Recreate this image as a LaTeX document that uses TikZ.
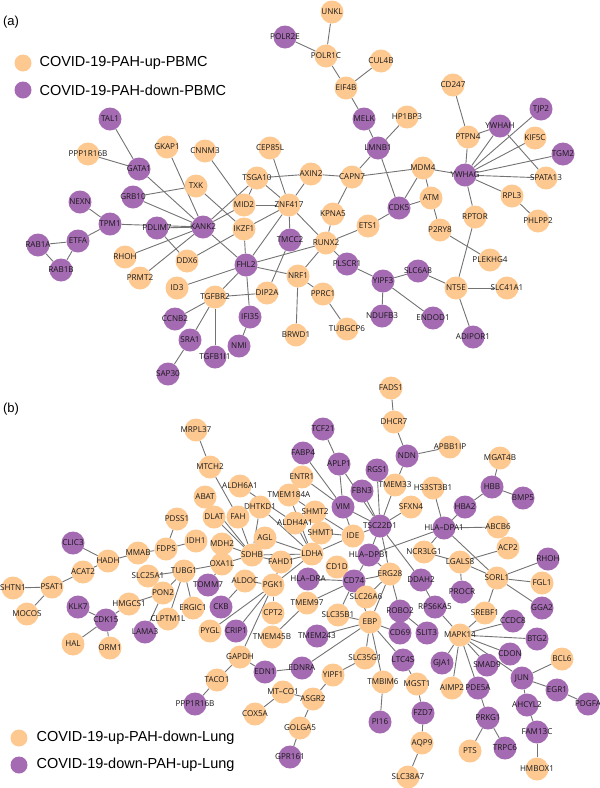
\documentclass[tikz,border=0pt]{standalone}
\usepackage{fontspec}
\setmainfont{Liberation Sans}
\newfontfamily\genefont{Open Sans}
\usetikzlibrary{backgrounds}
\definecolor{upcol}{RGB}{253,201,145}
\definecolor{downcol}{RGB}{164,106,178}
\definecolor{linkcol}{RGB}{115,115,115}

\begin{document}
\begin{tikzpicture}[x=1pt,y=-1pt]
    \tikzset{gene/.style={circle,minimum size=23pt,inner sep=0pt,draw=none},
             up/.style={gene,fill=upcol},
             down/.style={gene,fill=downcol},
             key/.style={circle,minimum size=17pt,inner sep=0pt,draw=none},
             link/.style={draw=linkcol,line width=0.9pt},
             every label/.style={font=\genefont\fontsize{8.1}{9}\selectfont,text=black!90,inner sep=0pt},
             legend/.style={anchor=west,font=\fontsize{14.5}{16}\selectfont},
             tag/.style={font=\fontsize{13}{15}\selectfont}}
    \useasboundingbox (0,0) rectangle (600,788);
    % panel (a)
    \node[tag] (tagA) at (11,22) {(a)};
    \node[key,fill=upcol] (keyUpA) at (23,63) {};
    \node[legend] (keyUpAtext) at (36,63) {COVID-19-PAH-up-PBMC};
    \node[key,fill=downcol] (keyDownA) at (23,90) {};
    \node[legend] (keyDownAtext) at (36,90) {COVID-19-PAH-down-PBMC};
\node[down,label=center:POLR2E] (POLR2E) at (285,37) {};
\node[up,label=center:UNKL] (UNKL) at (332,12) {};
\node[up,label=center:POLR1C] (POLR1C) at (326,56) {};
\node[up,label=center:CUL4B] (CUL4B) at (381,61) {};
\node[up,label=center:EIF4B] (EIF4B) at (346,88) {};
\node[down,label=center:MELK] (MELK) at (364,119) {};
\node[up,label=center:HP1BP3] (HP1BP3) at (407,117) {};
\node[down,label=center:LMNB1] (LMNB1) at (378,148) {};
\node[up,label=center:CD247] (CD247) at (453,85) {};
\node[down,label=center:TJP2] (TJP2) at (541,109) {};
\node[down,label=center:YWHAH] (YWHAH) at (500,126) {};
\node[up,label=center:PTPN4] (PTPN4) at (468,137) {};
\node[up,label=center:KIF5C] (KIF5C) at (535,138) {};
\node[down,label=center:TGM2] (TGM2) at (563,154) {};
\node[up,label=center:MDM4] (MDM4) at (423,168) {};
\node[down,label=center:YWHAG] (YWHAG) at (465,175) {};
\node[up,label=center:SPATA13] (SPATA13) at (546,178) {};
\node[up,label=center:RPL3] (RPL3) at (512,196) {};
\node[up,label=center:PHLPP2] (PHLPP2) at (538,221) {};
\node[up,label=center:RPTOR] (RPTOR) at (475,217) {};
\node[up,label=center:ATM] (ATM) at (431,198) {};
\node[up,label=center:P2RY8] (P2RY8) at (440,230) {};
\node[up,label=center:PLEKHG4] (PLEKHG4) at (490,260) {};
\node[down,label=center:CDK5] (CDK5) at (399,208) {};
\node[up,label=center:ETS1] (ETS1) at (368,226) {};
\node[up,label=center:KPNA5] (KPNA5) at (333,214) {};
\node[up,label=center:CAPN7] (CAPN7) at (352,177) {};
\node[up,label=center:AXIN2] (AXIN2) at (311,174) {};
\node[up,label=center:CEP85L] (CEP85L) at (270,148) {};
\node[up,label=center:TSGA10] (TSGA10) at (257,178) {};
\node[up,label=center:CNNM3] (CNNM3) at (205,151) {};
\node[up,label=center:GKAP1] (GKAP1) at (167,147) {};
\node[down,label=center:TAL1] (TAL1) at (110,119) {};
\node[up,label=center:PPP1R16B] (PPP1R16B) at (88,154) {};
\node[down,label=center:GATA1] (GATA1) at (139,169) {};
\node[up,label=center:TXK] (TXK) at (196,186) {};
\node[down,label=center:GRB10] (GRB10) at (133,197) {};
\node[up,label=center:MID2] (MID2) at (244,205) {};
\node[up,label=center:ZNF417] (ZNF417) at (289,205) {};
\node[down,label=center:NEXN] (NEXN) at (80,202) {};
\node[down,label=center:TPM1] (TPM1) at (110,224) {};
\node[down,label=center:PDLIM7] (PDLIM7) at (157,228) {};
\node[down,label=center:KANK2] (KANK2) at (203,227) {};
\node[up,label=center:IKZF1] (IKZF1) at (244,229) {};
\node[down,label=center:TMCC2] (TMCC2) at (290,240) {};
\node[up,label=center:RUNX2] (RUNX2) at (326,243) {};
\node[down,label=center:ETFA] (ETFA) at (78,241) {};
\node[down,label=center:RAB1A] (RAB1A) at (38,245) {};
\node[down,label=center:RAB1B] (RAB1B) at (61,270) {};
\node[up,label=center:RHOH] (RHOH) at (125,257) {};
\node[up,label=center:DDX6] (DDX6) at (187,261) {};
\node[down,label=center:FHL2] (FHL2) at (246,265) {};
\node[down,label=center:PLSCR1] (PLSCR1) at (347,264) {};
\node[down,label=center:SLC6A8] (SLC6A8) at (418,271) {};
\node[down,label=center:YIPF3] (YIPF3) at (383,281) {};
\node[up,label=center:NT5E] (NT5E) at (456,288) {};
\node[up,label=center:SLC41A1] (SLC41A1) at (507,288) {};
\node[up,label=center:NRF1] (NRF1) at (298,276) {};
\node[up,label=center:PRMT2] (PRMT2) at (140,278) {};
\node[up,label=center:ID3] (ID3) at (177,288) {};
\node[up,label=center:TGFBR2] (TGFBR2) at (215,297) {};
\node[up,label=center:DIP2A] (DIP2A) at (267,293) {};
\node[up,label=center:PPRC1] (PPRC1) at (323,294) {};
\node[down,label=center:NDUFB3] (NDUFB3) at (382,316) {};
\node[down,label=center:ENDOD1] (ENDOD1) at (433,318) {};
\node[down,label=center:CCNB2] (CCNB2) at (175,319) {};
\node[down,label=center:IFI35] (IFI35) at (250,317) {};
\node[up,label=center:TUBGCP6] (TUBGCP6) at (347,329) {};
\node[up,label=center:BRWD1] (BRWD1) at (296,335) {};
\node[down,label=center:ADIPOR1] (ADIPOR1) at (473,337) {};
\node[down,label=center:SRA1] (SRA1) at (190,340) {};
\node[down,label=center:NMI] (NMI) at (239,346) {};
\node[down,label=center:TGFB1I1] (TGFB1I1) at (215,357) {};
\node[down,label=center:SAP30] (SAP30) at (168,374) {};
    % panel (b)
    \node[tag] (tagB) at (11,409) {(b)};
    \node[key,fill=upcol] (keyUpB) at (19,738) {};
    \node[legend] (keyUpBtext) at (33,738) {COVID-19-up-PAH-down-Lung};
    \node[key,fill=downcol] (keyDownB) at (19,765) {};
    \node[legend] (keyDownBtext) at (33,765) {COVID-19-down-PAH-up-Lung};
\node[up,label=center:FADS1] (FADS1) at (391,388) {};
\node[up,label=center:DHCR7] (DHCR7) at (394,422) {};
\node[up,label=center:MRPL37] (MRPL37) at (196,430) {};
\node[down,label=center:TCF21] (TCF21) at (323,429) {};
\node[up,label=center:APBB1IP] (APBB1IP) at (450,447) {};
\node[down,label=center:FABP4] (FABP4) at (303,453) {};
\node[down,label=center:NDN] (NDN) at (407,456) {};
\node[up,label=center:MGAT4B] (MGAT4B) at (500,458) {};
\node[down,label=center:APLP1] (APLP1) at (339,464) {};
\node[up,label=center:MTCH2] (MTCH2) at (210,467) {};
\node[down,label=center:RGS1] (RGS1) at (377,470) {};
\node[up,label=center:ENTR1] (ENTR1) at (302,477) {};
\node[up,label=center:ALDH6A1] (ALDH6A1) at (240,486) {};
\node[up,label=center:TMEM33] (TMEM33) at (395,485) {};
\node[up,label=center:HS3ST3B1] (HS3ST3B1) at (433,488) {};
\node[down,label=center:HBB] (HBB) at (492,487) {};
\node[down,label=center:FBN3] (FBN3) at (362,491) {};
\node[up,label=center:TMEM184A] (TMEM184A) at (289,495) {};
\node[up,label=center:ABAT] (ABAT) at (205,497) {};
\node[down,label=center:BMP5] (BMP5) at (523,498) {};
\node[up,label=center:DHTKD1] (DHTKD1) at (260,507) {};
\node[down,label=center:VIM] (VIM) at (343,507) {};
\node[up,label=center:SFXN4] (SFXN4) at (411,507) {};
\node[down,label=center:HBA2] (HBA2) at (465,507) {};
\node[up,label=center:SHMT2] (SHMT2) at (315,512) {};
\node[up,label=center:DLAT] (DLAT) at (214,517) {};
\node[up,label=center:FAH] (FAH) at (238,517) {};
\node[up,label=center:PDSS1] (PDSS1) at (177,519) {};
\node[up,label=center:ALDH4A1] (ALDH4A1) at (295,523) {};
\node[down,label=center:TSC22D1] (TSC22D1) at (380,526) {};
\node[down,label=center:HLA–DPA1] (HLADPA1) at (444,528) {};
\node[up,label=center:ABCB6] (ABCB6) at (498,527) {};
\node[up,label=center:SHMT1] (SHMT1) at (321,533) {};
\node[up,label=center:IDE] (IDE) at (353,536) {};
\node[up,label=center:AGL] (AGL) at (265,538) {};
\node[up,label=center:IDH1] (IDH1) at (196,541) {};
\node[up,label=center:MDH2] (MDH2) at (222,544) {};
\node[down,label=center:CLIC3] (CLIC3) at (73,543) {};
\node[up,label=center:ACP2] (ACP2) at (508,548) {};
\node[up,label=center:FDPS] (FDPS) at (166,549) {};
\node[up,label=center:MMAB] (MMAB) at (138,553) {};
\node[up,label=center:NCR3LG1] (NCR3LG1) at (424,552) {};
\node[up,label=center:SDHB] (SDHB) at (252,555) {};
\node[up,label=center:LDHA] (LDHA) at (312,554) {};
\node[down,label=center:HLA–DPB1] (HLADPB1) at (369,555) {};
\node[down,label=center:RHOH] (RHOHb) at (548,559) {};
\node[up,label=center:HADH] (HADH) at (108,561) {};
\node[up,label=center:FAHD1] (FAHD1) at (281,562) {};
\node[up,label=center:LGALS8] (LGALS8) at (460,562) {};
\node[up,label=center:OXA1L] (OXA1L) at (222,564) {};
\node[up,label=center:CD1D] (CD1D) at (337,567) {};
\node[up,label=center:ACAT2] (ACAT2) at (83,572) {};
\node[up,label=center:TUBG1] (TUBG1) at (184,571) {};
\node[up,label=center:ERG28] (ERG28) at (390,574) {};
\node[up,label=center:SLC25A1] (SLC25A1) at (148,576) {};
\node[up,label=center:SORL1] (SORL1) at (497,578) {};
\node[down,label=center:CD74] (CD74) at (354,581) {};
\node[down,label=center:HLA–DRA] (HLADRA) at (308,579) {};
\node[down,label=center:DDAH2] (DDAH2) at (421,580) {};
\node[up,label=center:ALDOC] (ALDOC) at (245,581) {};
\node[down,label=center:TOMM7] (TOMM7) at (208,585) {};
\node[up,label=center:PGK1] (PGK1) at (273,585) {};
\node[up,label=center:SHTN1] (SHTN1) at (13,588) {};
\node[up,label=center:PSAT1] (PSAT1) at (52,587) {};
\node[up,label=center:FGL1] (FGL1) at (542,583) {};
\node[down,label=center:PROCR] (PROCR) at (462,592) {};
\node[up,label=center:PON2] (PON2) at (163,593) {};
\node[up,label=center:SLC26A6] (SLC26A6) at (366,597) {};
\node[up,label=center:TMEM97] (TMEM97) at (307,603) {};
\node[up,label=center:HMGCS1] (HMGCS1) at (129,604) {};
\node[down,label=center:KLK7] (KLK7) at (78,607) {};
\node[up,label=center:ERGIC1] (ERGIC1) at (193,608) {};
\node[down,label=center:CKB] (CKB) at (221,607) {};
\node[down,label=center:RPS6KA5] (RPS6KA5) at (435,607) {};
\node[down,label=center:GGA2] (GGA2) at (542,608) {};
\node[down,label=center:ROBO2] (ROBO2) at (400,611) {};
\node[up,label=center:CPT2] (CPT2) at (273,613) {};
\node[up,label=center:SREBF1] (SREBF1) at (485,613) {};
\node[up,label=center:MOCOS] (MOCOS) at (27,614) {};
\node[up,label=center:SLC35B1] (SLC35B1) at (338,615) {};
\node[down,label=center:CDK15] (CDK15) at (106,620) {};
\node[up,label=center:CLPTM1L] (CLPTM1L) at (168,619) {};
\node[down,label=center:CCDC8] (CCDC8) at (513,621) {};
\node[up,label=center:EBP] (EBP) at (370,622) {};
\node[down,label=center:LAMA3] (LAMA3) at (145,632) {};
\node[up,label=center:PYGL] (PYGL) at (210,631) {};
\node[down,label=center:CRIP1] (CRIP1) at (236,631) {};
\node[down,label=center:CD69] (CD69) at (400,633) {};
\node[down,label=center:SLIT3] (SLIT3) at (427,633) {};
\node[up,label=center:MAPK14] (MAPK14) at (460,635) {};
\node[down,label=center:TMEM243] (TMEM243) at (317,636) {};
\node[up,label=center:TMEM45B] (TMEM45B) at (272,637) {};
\node[down,label=center:BTG2] (BTG2) at (537,639) {};
\node[up,label=center:HAL] (HAL) at (73,644) {};
\node[up,label=center:ORM1] (ORM1) at (110,648) {};
\node[down,label=center:CDON] (CDON) at (510,654) {};
\node[up,label=center:GAPDH] (GAPDH) at (240,657) {};
\node[up,label=center:SLC35G1] (SLC35G1) at (365,658) {};
\node[up,label=center:BCL6] (BCL6) at (562,659) {};
\node[down,label=center:LTC4S] (LTC4S) at (403,660) {};
\node[down,label=center:GJA1] (GJA1) at (442,663) {};
\node[down,label=center:SMAD9] (SMAD9) at (487,665) {};
\node[down,label=center:EDNRA] (EDNRA) at (302,668) {};
\node[down,label=center:EDN1] (EDN1) at (265,672) {};
\node[up,label=center:YIPF1] (YIPF1) at (333,675) {};
\node[down,label=center:JUN] (JUN) at (522,678) {};
\node[up,label=center:TACO1] (TACO1) at (217,680) {};
\node[up,label=center:TMBIM6] (TMBIM6) at (383,682) {};
\node[up,label=center:MGST1] (MGST1) at (417,684) {};
\node[up,label=center:AIMP2] (AIMP2) at (452,688) {};
\node[down,label=center:PDE5A] (PDE5A) at (478,688) {};
\node[down,label=center:EGR1] (EGR1) at (557,690) {};
\node[up,label=center:MT–CO1] (MTCO1) at (283,692) {};
\node[up,label=center:ASGR2] (ASGR2) at (313,699) {};
\node[down,label=center:PPP1R16B] (PPP1R16Bb) at (195,704) {};
\node[down,label=center:PDGFA] (PDGFA) at (588,704) {};
\node[down,label=center:AHCYL2] (AHCYL2) at (527,705) {};
\node[down,label=center:FZD7] (FZD7) at (423,713) {};
\node[up,label=center:COX5A] (COX5A) at (255,714) {};
\node[down,label=center:PRKG1] (PRKG1) at (488,718) {};
\node[down,label=center:PI16] (PI16) at (380,722) {};
\node[up,label=center:GOLGA5] (GOLGA5) at (300,728) {};
\node[down,label=center:FAM13C] (FAM13C) at (537,732) {};
\node[up,label=center:AQP9] (AQP9) at (422,743) {};
\node[up,label=center:PTS] (PTS) at (470,751) {};
\node[down,label=center:TRPC6] (TRPC6) at (505,748) {};
\node[down,label=center:GPR161] (GPR161) at (290,757) {};
\node[up,label=center:HMBOX1] (HMBOX1) at (537,769) {};
\node[up,label=center:SLC38A7] (SLC38A7) at (408,777) {};
    \begin{scope}[on background layer]
    % links (a)
\draw[link] (POLR2E) -- (POLR1C);
\draw[link] (UNKL) -- (POLR1C);
\draw[link] (POLR1C) -- (EIF4B);
\draw[link] (CUL4B) -- (EIF4B);
\draw[link] (EIF4B) -- (MELK);
\draw[link] (MELK) -- (LMNB1);
\draw[link] (HP1BP3) -- (LMNB1);
\draw[link] (LMNB1) -- (CAPN7);
\draw[link] (LMNB1) -- (CDK5);
\draw[link] (CAPN7) -- (AXIN2);
\draw[link] (CAPN7) -- (MDM4);
\draw[link] (CAPN7) -- (KPNA5);
\draw[link] (MDM4) -- (YWHAG);
\draw[link] (MDM4) -- (CDK5);
\draw[link] (MDM4) -- (ATM);
\draw[link] (CDK5) -- (ATM);
\draw[link] (CDK5) -- (ETS1);
\draw[link] (ETS1) -- (RUNX2);
\draw[link] (KPNA5) -- (RUNX2);
\draw[link] (ATM) -- (P2RY8);
\draw[link] (P2RY8) -- (PLEKHG4);
\draw[link] (CD247) -- (PTPN4);
\draw[link] (PTPN4) -- (YWHAG);
\draw[link] (PTPN4) -- (YWHAH);
\draw[link] (YWHAH) -- (YWHAG);
\draw[link] (YWHAH) -- (SPATA13);
\draw[link] (TJP2) -- (YWHAG);
\draw[link] (KIF5C) -- (YWHAG);
\draw[link] (TGM2) -- (YWHAG);
\draw[link] (SPATA13) -- (YWHAG);
\draw[link] (YWHAG) -- (RPL3);
\draw[link] (YWHAG) -- (RPTOR);
\draw[link] (RPL3) -- (PHLPP2);
\draw[link] (RPTOR) -- (NT5E);
\draw[link] (NT5E) -- (SLC41A1);
\draw[link] (NT5E) -- (ADIPOR1);
\draw[link] (NT5E) -- (SLC6A8);
\draw[link] (SLC6A8) -- (YIPF3);
\draw[link] (YIPF3) -- (PLSCR1);
\draw[link] (YIPF3) -- (NDUFB3);
\draw[link] (YIPF3) -- (ENDOD1);
\draw[link] (PLSCR1) -- (RUNX2);
\draw[link] (ZNF417) -- (RUNX2);
\draw[link] (RUNX2) -- (NRF1);
\draw[link] (FHL2) -- (RUNX2);
\draw[link] (NRF1) -- (PPRC1);
\draw[link] (PPRC1) -- (TUBGCP6);
\draw[link] (NRF1) -- (BRWD1);
\draw[link] (CEP85L) -- (ZNF417);
\draw[link] (TSGA10) -- (AXIN2);
\draw[link] (AXIN2) -- (ZNF417);
\draw[link] (TSGA10) -- (ZNF417);
\draw[link] (TSGA10) -- (MID2);
\draw[link] (TSGA10) -- (KANK2);
\draw[link] (CNNM3) -- (MID2);
\draw[link] (GKAP1) -- (KANK2);
\draw[link] (GATA1) -- (KANK2);
\draw[link] (GATA1) -- (TAL1);
\draw[link] (GATA1) -- (PPP1R16B);
\draw[link] (GRB10) -- (TXK);
\draw[link] (GRB10) -- (KANK2);
\draw[link] (TXK) -- (IKZF1);
\draw[link] (TPM1) -- (KANK2);
\draw[link] (PDLIM7) -- (KANK2);
\draw[link] (PDLIM7) -- (DDX6);
\draw[link] (KANK2) -- (RHOH);
\draw[link] (KANK2) -- (PRMT2);
\draw[link] (KANK2) -- (FHL2);
\draw[link] (KANK2) -- (MID2);
\draw[link] (MID2) -- (ZNF417);
\draw[link] (IKZF1) -- (ZNF417);
\draw[link] (IKZF1) -- (DDX6);
\draw[link] (IKZF1) -- (FHL2);
\draw[link] (ZNF417) -- (FHL2);
\draw[link] (ZNF417) -- (TMCC2);
\draw[link] (TMCC2) -- (DIP2A);
\draw[link] (FHL2) -- (NRF1);
\draw[link] (FHL2) -- (IFI35);
\draw[link] (FHL2) -- (ID3);
\draw[link] (FHL2) -- (TGFBR2);
\draw[link] (TGFBR2) -- (DIP2A);
\draw[link] (TGFBR2) -- (CCNB2);
\draw[link] (TGFBR2) -- (SRA1);
\draw[link] (TGFBR2) -- (TGFB1I1);
\draw[link] (IFI35) -- (NMI);
\draw[link] (SRA1) -- (SAP30);
\draw[link] (TPM1) -- (NEXN);
\draw[link] (TPM1) -- (ETFA);
\draw[link] (ETFA) -- (RAB1A);
\draw[link] (ETFA) -- (RAB1B);
\draw[link] (RAB1A) -- (RAB1B);
    % links (b)
\draw[link] (FADS1) -- (DHCR7);
\draw[link] (DHCR7) -- (NDN);
\draw[link] (NDN) -- (APBB1IP);
\draw[link] (NDN) -- (TMEM33);
\draw[link] (TMEM33) -- (TSC22D1);
\draw[link] (SFXN4) -- (TSC22D1);
\draw[link] (TCF21) -- (APLP1);
\draw[link] (APLP1) -- (VIM);
\draw[link] (APLP1) -- (TSC22D1);
\draw[link] (FABP4) -- (VIM);
\draw[link] (ENTR1) -- (VIM);
\draw[link] (RGS1) -- (TSC22D1);
\draw[link] (FBN3) -- (TSC22D1);
\draw[link] (VIM) -- (TSC22D1);
\draw[link] (VIM) -- (IDE);
\draw[link] (MRPL37) -- (MTCH2);
\draw[link] (MTCH2) -- (FAH);
\draw[link] (ALDH6A1) -- (ALDH4A1);
\draw[link] (DHTKD1) -- (LDHA);
\draw[link] (DHTKD1) -- (SDHB);
\draw[link] (TMEM184A) -- (LDHA);
\draw[link] (TMEM184A) -- (SHMT2);
\draw[link] (ALDH4A1) -- (LDHA);
\draw[link] (SHMT2) -- (IDE);
\draw[link] (SHMT1) -- (IDE);
\draw[link] (IDE) -- (LDHA);
\draw[link] (IDE) -- (TSC22D1);
\draw[link] (AGL) -- (LDHA);
\draw[link] (AGL) -- (SDHB);
\draw[link] (ABAT) -- (SDHB);
\draw[link] (DLAT) -- (SDHB);
\draw[link] (FAH) -- (SDHB);
\draw[link] (MDH2) -- (SDHB);
\draw[link] (OXA1L) -- (SDHB);
\draw[link] (FAHD1) -- (SDHB);
\draw[link] (SDHB) -- (LDHA);
\draw[link] (FAHD1) -- (LDHA);
\draw[link] (FAHD1) -- (PGK1);
\draw[link] (LDHA) -- (PGK1);
\draw[link] (IDH1) -- (FDPS);
\draw[link] (PDSS1) -- (FDPS);
\draw[link] (FDPS) -- (MMAB);
\draw[link] (MMAB) -- (HADH);
\draw[link] (HADH) -- (CLIC3);
\draw[link] (HADH) -- (ACAT2);
\draw[link] (ACAT2) -- (PSAT1);
\draw[link] (PSAT1) -- (SHTN1);
\draw[link] (PSAT1) -- (MOCOS);
\draw[link] (TUBG1) -- (SLC25A1);
\draw[link] (TUBG1) -- (OXA1L);
\draw[link] (TUBG1) -- (PON2);
\draw[link] (TUBG1) -- (CLPTM1L);
\draw[link] (TUBG1) -- (ERGIC1);
\draw[link] (PON2) -- (HMGCS1);
\draw[link] (PON2) -- (LAMA3);
\draw[link] (HMGCS1) -- (CDK15);
\draw[link] (CDK15) -- (KLK7);
\draw[link] (CDK15) -- (HAL);
\draw[link] (CDK15) -- (ORM1);
\draw[link] (TOMM7) -- (OXA1L);
\draw[link] (CKB) -- (ALDOC);
\draw[link] (ALDOC) -- (PGK1);
\draw[link] (PGK1) -- (CPT2);
\draw[link] (PGK1) -- (PYGL);
\draw[link] (PGK1) -- (CRIP1);
\draw[link] (PGK1) -- (GAPDH);
\draw[link] (GAPDH) -- (EDN1);
\draw[link] (GAPDH) -- (TACO1);
\draw[link] (TACO1) -- (PPP1R16Bb);
\draw[link] (EDN1) -- (EDNRA);
\draw[link] (EDNRA) -- (EBP);
\draw[link] (MTCO1) -- (ASGR2);
\draw[link] (MTCO1) -- (COX5A);
\draw[link] (ASGR2) -- (YIPF1);
\draw[link] (ASGR2) -- (GOLGA5);
\draw[link] (GOLGA5) -- (GPR161);
\draw[link] (YIPF1) -- (SLC35G1);
\draw[link] (SLC35G1) -- (EBP);
\draw[link] (EBP) -- (TMBIM6);
\draw[link] (TMBIM6) -- (PI16);
\draw[link] (EBP) -- (LTC4S);
\draw[link] (LTC4S) -- (MGST1);
\draw[link] (MGST1) -- (FZD7);
\draw[link] (FZD7) -- (AQP9);
\draw[link] (AQP9) -- (SLC38A7);
\draw[link] (EBP) -- (CD69);
\draw[link] (EBP) -- (TMEM243);
\draw[link] (EBP) -- (SLC35B1);
\draw[link] (EBP) -- (ERG28);
\draw[link] (EBP) -- (CD74);
\draw[link] (SLC35B1) -- (CD74);
\draw[link] (TMEM97) -- (CD74);
\draw[link] (TMEM97) -- (TMEM45B);
\draw[link] (HLADRA) -- (CD74);
\draw[link] (CD1D) -- (CD74);
\draw[link] (CD74) -- (ERG28);
\draw[link] (CD74) -- (HLADPB1);
\draw[link] (SLC26A6) -- (ERG28);
\draw[link] (ERG28) -- (HLADPB1);
\draw[link] (ERG28) -- (TSC22D1);
\draw[link] (ERG28) -- (ROBO2);
\draw[link] (ROBO2) -- (SLIT3);
\draw[link] (TSC22D1) -- (DDAH2);
\draw[link] (DDAH2) -- (RPS6KA5);
\draw[link] (RPS6KA5) -- (MAPK14);
\draw[link] (HLADPB1) -- (TSC22D1);
\draw[link] (HLADPB1) -- (HLADPA1);
\draw[link] (HS3ST3B1) -- (HLADPA1);
\draw[link] (HBA2) -- (HLADPA1);
\draw[link] (HBA2) -- (HBB);
\draw[link] (HBB) -- (MGAT4B);
\draw[link] (HBB) -- (BMP5);
\draw[link] (ABCB6) -- (HLADPA1);
\draw[link] (NCR3LG1) -- (HLADPA1);
\draw[link] (HLADPA1) -- (SORL1);
\draw[link] (NCR3LG1) -- (LGALS8);
\draw[link] (LGALS8) -- (ACP2);
\draw[link] (LGALS8) -- (SORL1);
\draw[link] (LGALS8) -- (PROCR);
\draw[link] (SORL1) -- (RHOHb);
\draw[link] (SORL1) -- (FGL1);
\draw[link] (SORL1) -- (GGA2);
\draw[link] (SORL1) -- (SREBF1);
\draw[link] (SREBF1) -- (MAPK14);
\draw[link] (MAPK14) -- (CCDC8);
\draw[link] (MAPK14) -- (BTG2);
\draw[link] (MAPK14) -- (CDON);
\draw[link] (MAPK14) -- (SMAD9);
\draw[link] (MAPK14) -- (JUN);
\draw[link] (MAPK14) -- (GJA1);
\draw[link] (MAPK14) -- (AIMP2);
\draw[link] (MAPK14) -- (PDE5A);
\draw[link] (PDE5A) -- (PRKG1);
\draw[link] (PRKG1) -- (PTS);
\draw[link] (PRKG1) -- (TRPC6);
\draw[link] (JUN) -- (BCL6);
\draw[link] (JUN) -- (EGR1);
\draw[link] (EGR1) -- (PDGFA);
\draw[link] (JUN) -- (AHCYL2);
\draw[link] (AHCYL2) -- (FAM13C);
\draw[link] (FAM13C) -- (HMBOX1);
    \end{scope}
\end{tikzpicture}
\end{document}
